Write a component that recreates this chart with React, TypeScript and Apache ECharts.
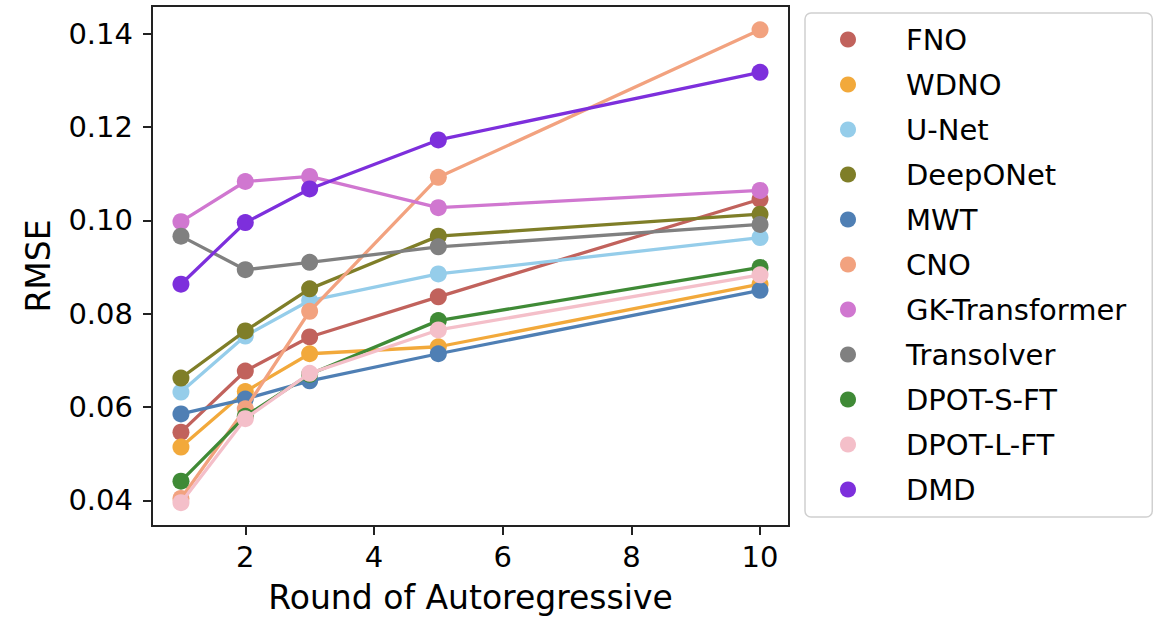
import React, { useEffect, useRef } from "react";
import * as echarts from "echarts";

const rounds = [1, 2, 3, 5, 10];
const seriesNames = [
  "FNO",
  "WDNO",
  "U-Net",
  "DeepONet",
  "MWT",
  "CNO",
  "GK-Transformer",
  "Transolver",
  "DPOT-S-FT",
  "DPOT-L-FT",
  "DMD",
];
const fno = [0.0546, 0.0677, 0.075, 0.0836, 0.1045];
const wdno = [0.0514, 0.0633, 0.0714, 0.0729, 0.0863];
const unet = [0.0632, 0.0752, 0.0828, 0.0885, 0.0963];
const deeponet = [0.0662, 0.0763, 0.0853, 0.0966, 0.1013];
const mwt = [0.0585, 0.0617, 0.0656, 0.0714, 0.085];
const cno = [0.0404, 0.0596, 0.0805, 0.1092, 0.1408];
const gk = [0.0997, 0.1083, 0.1094, 0.1027, 0.1064];
const transolver = [0.0966, 0.0894, 0.091, 0.0943, 0.0991];
const dpotS = [0.0441, 0.058, 0.067, 0.0785, 0.0899];
const dpotL = [0.0395, 0.0575, 0.0672, 0.0765, 0.0883];
const dmd = [0.0863, 0.0995, 0.1067, 0.1172, 0.1317];
const seriesValues = [fno, wdno, unet, deeponet, mwt, cno, gk, transolver, dpotS, dpotL, dmd];
const colors = [
  "#C1625C",
  "#F2A93B",
  "#95CDEA",
  "#7F7E28",
  "#4F7FB4",
  "#F2A27F",
  "#D077D0",
  "#808080",
  "#3F8A36",
  "#F4BFC9",
  "#7D2FDC",
];
const xTicks = [2, 4, 6, 8, 10];
const yTicks = [0.04, 0.06, 0.08, 0.1, 0.12, 0.14];

const FONT = "DejaVu Sans";

export default function App() {
  const ref = useRef<HTMLDivElement>(null);
  useEffect(() => {
    if (!ref.current) return;
    const chart = echarts.init(ref.current, null, { renderer: "svg" });
    const series = seriesNames.map((name, i) => ({
      name,
      type: "line",
      data: rounds.map((r, j) => [r, seriesValues[i][j]]),
      symbol: "circle",
      symbolSize: 17,
      showSymbol: true,
      lineStyle: { width: 3.3, color: colors[i] },
      itemStyle: { color: colors[i] },
      emphasis: { disabled: true },
      z: 2 + i,
    }));
    chart.setOption({
      animation: false,
      backgroundColor: "#ffffff",
      grid: {
        left: 152,
        right: 369,
        top: 6,
        bottom: 90,
        show: true,
        borderColor: "#222",
        borderWidth: 2,
        backgroundColor: "transparent",
      },
      xAxis: {
        type: "value",
        min: 0.55,
        max: 10.45,
        name: "Round of Autoregressive",
        nameLocation: "middle",
        nameGap: 55,
        nameTextStyle: { fontFamily: FONT, fontSize: 33, color: "#000" },
        axisLine: { show: false },
        splitLine: { show: false },
        axisTick: {
          show: true,
          inside: false,
          length: 9,
          customValues: xTicks,
          lineStyle: { color: "#222", width: 2 },
        },
        axisLabel: {
          customValues: xTicks,
          margin: 16,
          fontFamily: FONT,
          fontSize: 29,
          color: "#000",
        },
      },
      yAxis: {
        type: "value",
        min: 0.0345,
        max: 0.1459,
        name: "RMSE",
        nameLocation: "middle",
        nameGap: 97,
        nameTextStyle: { fontFamily: FONT, fontSize: 33, color: "#000" },
        axisLine: { show: false },
        splitLine: { show: false },
        axisTick: {
          show: true,
          inside: false,
          length: 9,
          customValues: yTicks,
          lineStyle: { color: "#222", width: 2 },
        },
        axisLabel: {
          customValues: yTicks,
          margin: 19,
          fontFamily: FONT,
          fontSize: 29,
          color: "#000",
          formatter: (v: number) => v.toFixed(2),
        },
      },
      legend: {
        show: true,
        orient: "vertical",
        left: 805,
        top: 13,
        padding: [12, 26, 13, 35],
        itemWidth: 16,
        itemHeight: 16,
        itemGap: 16,
        icon: "circle",
        borderColor: "#d0d0d0",
        borderWidth: 1.5,
        borderRadius: 6,
        backgroundColor: "#ffffff",
        data: seriesNames,
        textStyle: {
          fontFamily: FONT,
          fontSize: 29,
          lineHeight: 29,
          color: "#000",
          padding: [0, 0, 0, 45],
        },
      },
      series,
    });
    return () => chart.dispose();
  }, []);
  return (
    <div
      ref={ref}
      style={{ position: "fixed", left: 0, top: 0, width: 1158, height: 619 }}
    />
  );
}
